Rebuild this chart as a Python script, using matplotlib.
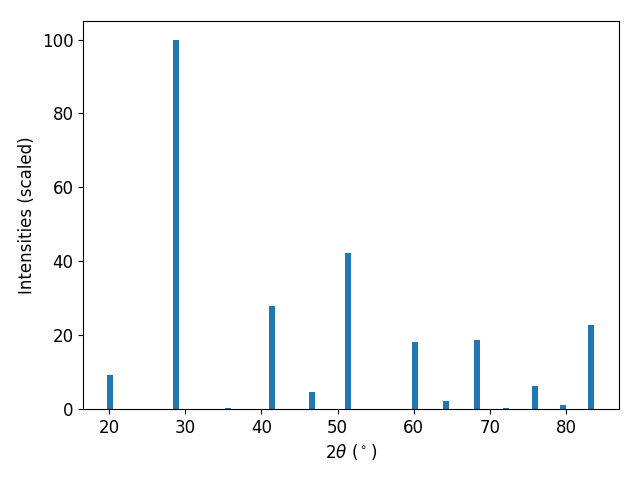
import numpy as np
import matplotlib.pyplot as plt

# peak positions (2theta, deg) and scaled intensities
two_theta = [20.07, 28.8, 35.6, 41.4, 46.65, 51.4, 60.2, 64.3, 68.3, 72.1, 75.9, 79.6, 83.3]
intensity = [9.2, 100.0, 0.3, 27.9, 4.6, 42.3, 18.2, 2.2, 18.7, 0.3, 6.2, 1.1, 22.8]

plt.rcParams['font.size'] = 12

fig, ax = plt.subplots(figsize=(6.4, 4.8), dpi=100)
ax.bar(two_theta, intensity, width=0.8, color='#1f77b4')
ax.set_xlim(16.6, 86.95)
ax.set_ylim(0, 105)
ax.set_xlabel(r"2$\theta$ ($^\circ$)")
ax.set_ylabel("Intensities (scaled)")
fig.subplots_adjust(left=0.130, right=0.967, top=0.956, bottom=0.148)
fig.savefig("out.png")
